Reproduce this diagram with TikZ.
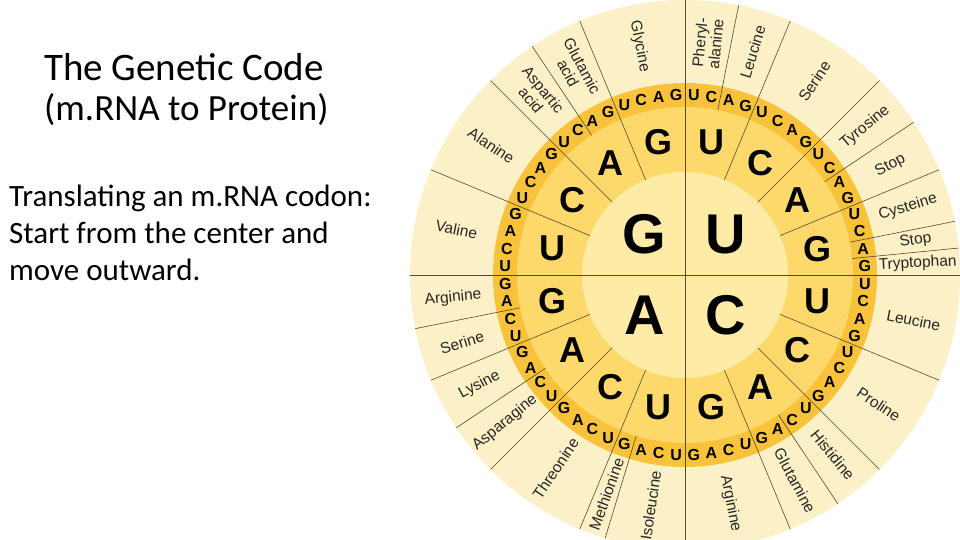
\documentclass[tikz,border=0pt]{standalone}
\usepackage{fontspec}
\usetikzlibrary{calc}
\setmainfont{Carlito}
\newfontfamily\wheelfont{Liberation Sans}
\definecolor{outerring}{HTML}{FCF0C6}
\definecolor{thirdring}{HTML}{F8C33A}
\definecolor{secondring}{HTML}{FDD96C}
\definecolor{innerdisc}{HTML}{FDEBA6}
\definecolor{divline}{HTML}{5A4A2A}
\tikzset{
  firstbase/.style={font=\wheelfont\bfseries\fontsize{56}{56}\selectfont},
  secondbase/.style={font=\wheelfont\bfseries\fontsize{36}{36}\selectfont},
  thirdbase/.style={font=\wheelfont\bfseries\fontsize{16}{16}\selectfont, inner sep=0pt},
  aminolabel/.style={font=\wheelfont\fontsize{15.5}{16}\selectfont, text=black!85, align=center, inner sep=0pt},
  divider/.style={draw=divline, line width=0.6pt},
}
\begin{document}
\begin{tikzpicture}[x=1pt,y=1pt]
  \useasboundingbox (0,0) rectangle (960,540);
  \clip (0,0) rectangle (960,540);
  \fill[white] (0,0) rectangle (960,540);

  % titles and text
  \node[anchor=west, inner sep=0pt, font=\fontsize{39}{39}\selectfont] (title) at (44,473) {The Genetic Code};
  \node[anchor=west, inner sep=0pt, font=\fontsize{37}{37}\selectfont] (subtitle) at (44,430) {(m.RNA to Protein)};
  \node[anchor=north west, inner sep=0pt, align=left, font=\fontsize{31}{37}\selectfont] (howto) at (9,355)
    {Translating an m.RNA codon:\\Start from the center and\\move outward.};

  % wheel
  \coordinate (O) at (685,265);
  \fill[outerring] (O) circle (275);
  \fill[thirdring] (O) circle (192);
  \fill[secondring] (O) circle (168);
  \fill[innerdisc] (O) circle (103);

  % quadrant lines
  \draw[divider] ([xshift=-275]O) -- ([xshift=275]O);
  \draw[divider] ([yshift=-275]O) -- ([yshift=275]O);

  \foreach \q/\qa in {U/90, C/0, A/-90, G/180} {
    \node[firstbase] (f-\q) at ($(O)+(\qa-45:57)$) {\q};
    % second base boundaries
    \foreach \j in {1,2,3}
      \draw[divider] ($(O)+(\qa-\j*22.5:103)$) -- ($(O)+(\qa-\j*22.5:275)$);
    \foreach \s [count=\j from 0] in {U,C,A,G} {
      \node[secondbase] (s-\q\s) at ($(O)+({\qa-(\j+0.5)*22.5}:135)$) {\s};
      \foreach \t [count=\k from 0] in {U,C,A,G}
        \node[thirdbase] (t-\q\s\t) at ($(O)+({\qa-(\j*4+\k+0.5)*5.625}:180)$) {\t};
    }
  }

  % amino acid boundaries
  \foreach \qa/\b in {90/2, 90/10, 90/14, 90/15, 0/10, -90/3, -90/10, -90/14, 180/10}
    \draw[divider] ($(O)+(\qa-\b*5.625:168)$) -- ($(O)+(\qa-\b*5.625:275)$);

  % amino acids
  \foreach \qa/\a/\n/\txt [count=\i,
      evaluate=\a as \ang using {\qa-(\a+\n/2)*5.625},
      evaluate=\ang as \rot using {cos(\ang)>-0.0001 ? \ang : \ang+180}] in {
    90/0/2/{Pheryl-\\alanine}, 90/2/2/Leucine, 90/4/4/Serine, 90/8/2/Tyrosine,
    90/10/2/Stop, 90/12/2/Cysteine, 90/14/1/Stop, 90/15/1/Tryptophan,
    0/0/4/Leucine, 0/4/4/Proline, 0/8/2/Histidine, 0/10/2/Glutamine, 0/12/4/Arginine,
    -90/0/3/Isoleucine, -90/3/1/Methionine, -90/4/4/Threonine, -90/8/2/Asparagine,
    -90/10/2/Lysine, -90/12/2/Serine, -90/14/2/Arginine,
    180/0/4/Valine, 180/4/4/Alanine, 180/8/2/{Aspartic\\acid}, 180/10/2/{Glutamic\\acid},
    180/12/4/Glycine}
    \node[aminolabel, rotate=\rot] (aa-\i) at ($(O)+(\ang:233)$) {\txt};
\end{tikzpicture}
\end{document}
